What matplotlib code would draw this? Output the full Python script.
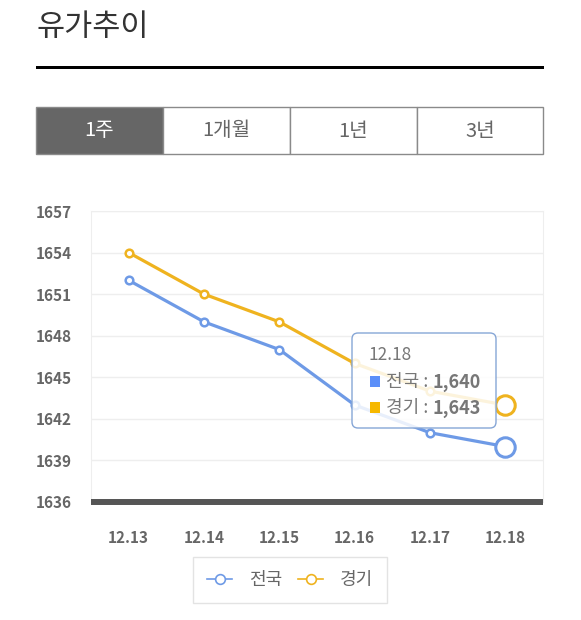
import matplotlib
matplotlib.use('Agg')
import matplotlib.pyplot as plt
from matplotlib.patches import Rectangle, FancyBboxPatch
from matplotlib.lines import Line2D
from matplotlib.transforms import IdentityTransform

plt.rcParams['font.family'] = ['Noto Sans CJK KR', 'DejaVu Sans']

# data
dates = ['12.13', '12.14', '12.15', '12.16', '12.17', '12.18']
national = [1652, 1649, 1647, 1643, 1641, 1640]   # 전국
gyeonggi = [1654, 1651, 1649, 1646, 1644, 1643]   # 경기
yticks = [1636, 1639, 1642, 1645, 1648, 1651, 1654, 1657]
tabs = ['1주', '1개월', '1년', '3년']

W, H = 581, 620
BLUE = '#6e9ae6'
ORANGE = '#efb31f'
GRAY = '#666666'

fig = plt.figure(figsize=(W / 100, H / 100), dpi=100)
fig.patch.set_facecolor('white')
pix = IdentityTransform()


def fx(x):
    return x / W


def fy(y):
    return 1 - y / H


# title and rule under it
fig.text(fx(36), fy(27), '유가추이', fontsize=22, color='#333333', fontweight='medium',
         va='center', ha='left')
fig.add_artist(Rectangle((36, H - 69), 508, 3, transform=pix, color='black', lw=0))

# period tabs
tab_edges = [36, 163, 290, 417, 543]
for i, name in enumerate(tabs):
    x0, x1 = tab_edges[i], tab_edges[i + 1]
    active = i == 0
    fig.add_artist(Rectangle((x0, H - 154), x1 - x0, 47, transform=pix,
                             facecolor=GRAY if active else 'white',
                             edgecolor='#8a8a8a', lw=1.0))
    fig.text(fx((x0 + x1) / 2), fy(131), name, fontsize=14.5,
             color='white' if active else GRAY, ha='center', va='center')

# main chart
ax = fig.add_axes([fx(91), fy(502), (543 - 91) / W, (502 - 211) / H])
x = list(range(len(dates)))
ax.plot(x, national, color=BLUE, lw=2.3, marker='o', ms=5.5, mfc='white', mew=1.8, zorder=3)
ax.plot(x, gyeonggi, color=ORANGE, lw=2.3, marker='o', ms=5.5, mfc='white', mew=1.8, zorder=3)
# hovered point is drawn larger
ax.plot(x[-1], national[-1], 'o', color=BLUE, ms=14, mfc='white', mew=2.2, zorder=4)
ax.plot(x[-1], gyeonggi[-1], 'o', color=ORANGE, ms=14, mfc='white', mew=2.2, zorder=4)

ax.set_xlim(-0.5, len(dates) - 0.5)
ax.set_ylim(yticks[0], yticks[-1])
ax.set_yticks(yticks)
ax.set_xticks(x)
ax.set_xticklabels(dates)
ax.tick_params(axis='both', length=0, labelsize=11, labelcolor=GRAY)
ax.tick_params(axis='x', pad=20)
ax.tick_params(axis='y', pad=14)
for lab in ax.get_xticklabels() + ax.get_yticklabels():
    lab.set_fontweight('bold')
ax.grid(axis='y', color='#eeeeee', lw=1)
ax.set_axisbelow(True)
for side in ['top', 'left', 'right']:
    ax.spines[side].set_color('#eeeeee')
    ax.spines[side].set_linewidth(0.8)
ax.spines['bottom'].set_color('#555555')
ax.spines['bottom'].set_linewidth(4.3)
ax.spines['bottom'].set_capstyle('butt')

# tooltip
fig.add_artist(FancyBboxPatch((352, H - 428), 144, 95, transform=pix,
                              boxstyle='round,pad=0,rounding_size=6',
                              facecolor=(1, 1, 1, 0.85), edgecolor='#86a6d6', lw=1.0, zorder=5))
fig.text(fx(369), fy(355), dates[-1], fontsize=12.5, color='#777777', va='center', zorder=6)
rows = [('전국', national[-1], '#5b8ff9', 382), ('경기', gyeonggi[-1], '#f6b800', 408)]
for name, val, col, yy in rows:
    fig.add_artist(Rectangle((370, H - yy - 5), 10, 11, transform=pix, color=col, lw=0, zorder=6))
    fig.text(fx(386), fy(yy), name + ' :', fontsize=13, color='#777777', va='center', zorder=6)
    fig.text(fx(433), fy(yy), f'{val:,}', fontsize=13, color='#777777', fontweight='bold',
             va='center', zorder=6)

# legend
handles = [Line2D([], [], color=BLUE, lw=1.2, marker='o', ms=7, mfc='white', mew=1.2),
           Line2D([], [], color=ORANGE, lw=1.2, marker='o', ms=7, mfc='white', mew=1.2)]
leg = ax.legend(handles, ['전국', '경기'], loc='center', bbox_to_anchor=(fx(290), fy(580)),
                bbox_transform=fig.transFigure, ncol=2, frameon=True, fancybox=False,
                fontsize=13, handlelength=1.4, columnspacing=0.9, handletextpad=0.9,
                borderpad=0.8, labelcolor=GRAY)
leg.get_frame().set_edgecolor('#dddddd')
leg.get_frame().set_linewidth(1.0)

fig.savefig('out.png', dpi=100)
